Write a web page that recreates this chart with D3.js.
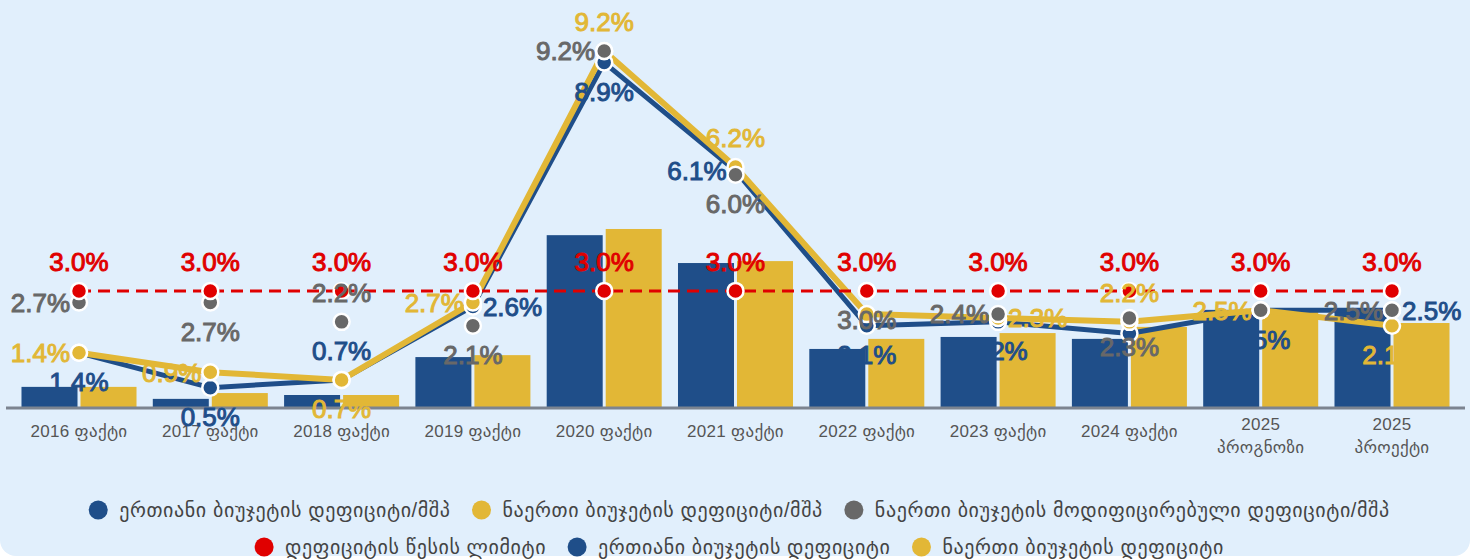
<!DOCTYPE html>
<html>
<head>
<meta charset="utf-8">
<script src="https://cdn.jsdelivr.net/npm/d3@7"></script>
<style>
  body { margin: 0; background: #fff; }
  text { font-family: "Liberation Sans", Arial, "DejaVu Sans", sans-serif; }
</style>
</head>
<body>
<div id="chart"></div>
<script>
// categories
var years = ["2016 ფაქტი", "2017 ფაქტი", "2018 ფაქტი", "2019 ფაქტი", "2020 ფაქტი", "2021 ფაქტი",
  "2022 ფაქტი", "2023 ფაქტი", "2024 ფაქტი", "2025 პროგნოზი", "2025 პროექტი"]

// bars, mln GEL
var unifiedDeficit = [520, 210, 310, 1290, 4440, 3720, 1500, 1810, 1760, 2510, 2510]
var consolidatedDeficit = [520, 360, 310, 1340, 4600, 3770, 1760, 1910, 2070, 2530, 2170]

// lines, % of GDP
var unifiedGdp = [1.4, 0.5, 0.7, 2.6, 8.9, 6.1, 2.1, 2.2, 1.9, 2.5, 2.5]
var consolidatedGdp = [1.4, 0.9, 0.7, 2.7, 9.2, 6.2, 2.4, 2.3, 2.2, 2.5, 2.1]
var modifiedGdp = [2.7, 2.7, 2.2, 2.1, 9.2, 6.0, 3.0, 2.4, 2.3, 2.5, 2.5]
var ruleLimit = [3.0, 3.0, 3.0, 3.0, 3.0, 3.0, 3.0, 3.0, 3.0, 3.0, 3.0]

var legendRows = [
  [["ერთიანი ბიუჯეტის დეფიციტი/მშპ", "#1f4e89"], ["ნაერთი ბიუჯეტის დეფიციტი/მშპ", "#e2b736"],
    ["ნაერთი ბიუჯეტის მოდიფიცირებული დეფიციტი/მშპ", "#686868"]],
  [["დეფიციტის წესის ლიმიტი", "#e00000"], ["ერთიანი ბიუჯეტის დეფიციტი", "#1f4e89"],
    ["ნაერთი ბიუჯეტის დეფიციტი", "#e2b736"]]
]

var blue = "#1f4e89", yellow = "#e2b736", gray = "#686868", red = "#e00000"

var W = 1479, H = 560

var svg = d3.select("#chart")
  .append("svg")
  .attr("width", W)
  .attr("height", H)

// panel background
svg.append("rect")
  .attr("x", 0).attr("y", -20)
  .attr("width", 1470).attr("height", 576)
  .attr("rx", 16)
  .style("fill", "#e1effc")

var x = d3.scaleBand()
  .domain(years)
  .range([13.35, 1457.65])
  .padding(0)

var xSub = d3.scaleBand()
  .domain(["u", "c"])
  .range([0, x.bandwidth()])
  .paddingInner(0.051)
  .paddingOuter(0.138)

var yPct = d3.scaleLinear().domain([0, 10]).range([407, 20])
var yBar = d3.scaleLinear().domain([0, 10000]).range([407, 20])

function cx(i) { return x(years[i]) + x.bandwidth() / 2 }

// bars
var bars = svg.append("g")
years.forEach(function (yr, i) {
  bars.append("rect")
    .attr("x", x(yr) + xSub("u"))
    .attr("y", yBar(unifiedDeficit[i]))
    .attr("width", xSub.bandwidth())
    .attr("height", yBar(0) - yBar(unifiedDeficit[i]))
    .style("fill", blue)
  bars.append("rect")
    .attr("x", x(yr) + xSub("c"))
    .attr("y", yBar(consolidatedDeficit[i]))
    .attr("width", xSub.bandwidth())
    .attr("height", yBar(0) - yBar(consolidatedDeficit[i]))
    .style("fill", yellow)
})

// x axis
var xAxis = svg.append("g")
  .attr("transform", "translate(0,408)")
  .call(d3.axisBottom(x).tickSize(0).tickPadding(0))
xAxis.select(".domain").remove()
xAxis.append("line")
  .attr("x1", 6).attr("x2", 1465)
  .style("stroke", "#7c8490")
  .style("stroke-width", 3)
xAxis.selectAll(".tick text").remove()
xAxis.selectAll(".tick").each(function (d) {
  var parts = d.split(" ")
  var t = d3.select(this).append("text")
    .style("fill", "#555")
    .style("font-size", "17px")
    .style("letter-spacing", "0.3px")
    .attr("text-anchor", "middle")
  if (parts[1] == "ფაქტი") {
    t.attr("y", 29).text(d)
  } else {
    t.append("tspan").attr("x", 0).attr("y", 22).text(parts[0])
    t.append("tspan").attr("x", 0).attr("y", 45).text(parts[1])
  }
})

// lines
var line = d3.line()
  .x(function (d, i) { return cx(i) })
  .y(function (d) { return yPct(d) })

svg.append("path")
  .datum(unifiedGdp)
  .attr("d", line)
  .style("fill", "none")
  .style("stroke", blue)
  .style("stroke-width", 5)
  .style("stroke-linejoin", "round")

svg.append("path")
  .datum(consolidatedGdp)
  .attr("d", line)
  .style("fill", "none")
  .style("stroke", yellow)
  .style("stroke-width", 6)
  .style("stroke-linejoin", "round")

function dots(data, color, r) {
  svg.append("g")
    .selectAll("circle")
    .data(data)
    .enter()
    .append("circle")
    .attr("cx", function (d, i) { return cx(i) })
    .attr("cy", function (d) { return yPct(d) })
    .attr("r", r)
    .style("fill", color)
    .style("stroke", "#fff")
    .style("stroke-width", 2.5)
}

dots(unifiedGdp, blue, 8)
dots(consolidatedGdp, yellow, 8)
dots(modifiedGdp, gray, 8)

svg.append("path")
  .datum(ruleLimit)
  .attr("d", line)
  .style("fill", "none")
  .style("stroke", red)
  .style("stroke-width", 3)
  .style("stroke-dasharray", "12,7")
dots(ruleLimit, red, 8)

// label placement: a above, b below, l left, r right, "" hidden
var placeRed = ["a", "a", "a", "a", "a", "a", "a", "a", "a", "a", "a"]
var placeGray = ["l", "b", "a", "b", "l", "b", "b", "l", "b", "", "l"]
var placeYellow = ["l", "l", "b", "l", "a", "a", "", "r", "a", "l", "b"]
var placeBlue = ["b", "b", "a", "r", "b", "l", "b", "b", "", "b", "r"]

function labels(data, place, color) {
  var g = svg.append("g")
  data.forEach(function (v, i) {
    var p = place[i]
    if (!p) return
    var px = cx(i), py = yPct(v)
    var t = g.append("text")
      .text(v.toFixed(1) + "%")
      .style("fill", color)
      .style("stroke", color)
      .style("stroke-width", 1)
      .style("font-size", "26px")
      .attr("dy", "0.36em")
    if (p == "a") t.attr("x", px).attr("y", py - 29).attr("text-anchor", "middle")
    if (p == "b") t.attr("x", px).attr("y", py + 29).attr("text-anchor", "middle")
    if (p == "l") t.attr("x", px - 9).attr("y", py).attr("text-anchor", "end")
    if (p == "r") t.attr("x", px + 10).attr("y", py).attr("text-anchor", "start")
  })
}

labels(unifiedGdp, placeBlue, blue)
labels(consolidatedGdp, placeYellow, yellow)
labels(modifiedGdp, placeGray, gray)
labels(ruleLimit, placeRed, red)

// legend
legendRows.forEach(function (row, r) {
  var g = svg.append("g")
  var pos = 0
  row.forEach(function (item, k) {
    g.append("circle")
      .attr("cx", pos + 9)
      .attr("cy", 0)
      .attr("r", 9.5)
      .style("fill", item[1])
    var t = g.append("text")
      .attr("x", pos + 30)
      .attr("dy", "0.35em")
      .style("fill", "#444")
      .style("font-size", "20px")
      .style("letter-spacing", "0.6px")
      .text(item[0])
    pos = pos + 30 + t.node().getComputedTextLength() + 22
  })
  var w = pos - 22
  g.attr("transform", "translate(" + (W / 2 - w / 2) + "," + (510 + r * 37) + ")")
})
</script>
</body>
</html>
